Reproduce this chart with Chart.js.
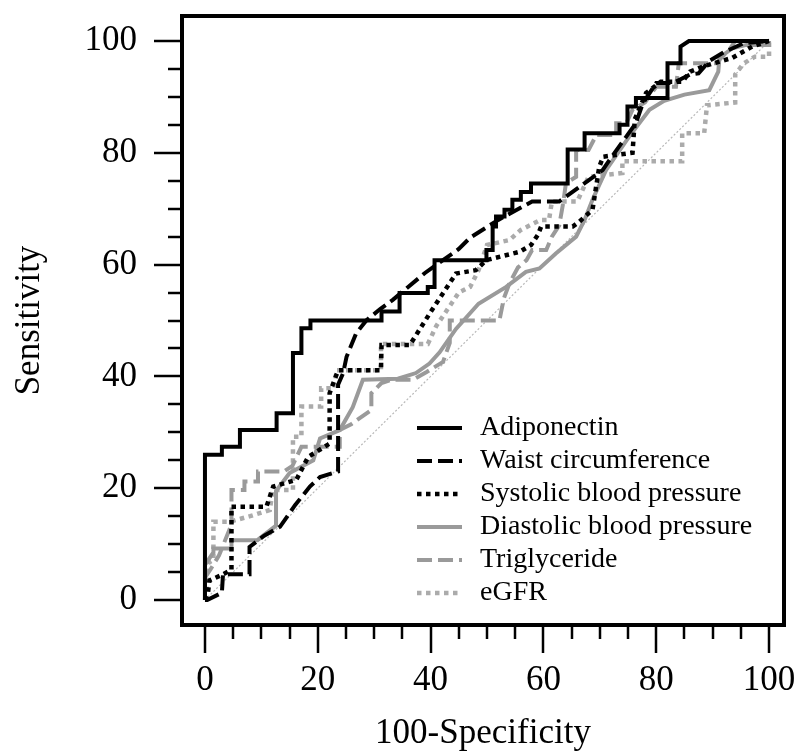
<!DOCTYPE html>
<html>
<head>
<meta charset="utf-8">
<script src="https://cdn.jsdelivr.net/npm/chart.js@4.4.1/dist/chart.umd.min.js"></script>
<style>
html,body{margin:0;padding:0;background:#fff;}
canvas{display:block;}
</style>
</head>
<body>
<canvas id="c" width="800" height="751"></canvas>
<script>
// ---- data (100-Specificity, Sensitivity) ----
const seriesNames = ["Adiponectin","Waist circumference","Systolic blood pressure","Diastolic blood pressure","Triglyceride","eGFR"];

const adipoX = [0,0,3,3,6.2,6.2,12.7,12.7,15.6,15.6,17.1,17.1,18.7,18.7,31.3,31.3,34.5,34.5,39.5,39.5,40.7,40.7,49.9,49.9,51,51,51.6,51.6,53.1,53.1,54.5,54.5,56,56,57.8,57.8,64.3,64.3,67.3,67.3,73.5,73.5,74.9,74.9,76.4,76.4,82,82,84.3,84.3,85.8,100];
const adipoY = [0,26,26,27.4,27.4,30.4,30.4,33.4,33.4,44.2,44.2,48.6,48.6,50,50,51.6,51.6,54.9,54.9,56,56,60.8,60.8,62.6,62.6,66.8,66.8,68.6,68.6,69.8,69.8,71.6,71.6,73,73,74.5,74.5,80.6,80.6,83.5,83.5,85,85,88.3,88.3,89.8,89.8,96,96,99,100,100];

const waistX = [0,0.4,3,3.2,7.9,7.9,10.5,13.3,16,18.6,20.4,23.6,23.6,24.5,25.1,26.8,28.6,31,33.3,39,45,47,52,58,62.8,66.5,70.5,71.7,76.4,77.6,80,83,86,87.5,89.5,92,95.5,100];
const waistY = [0,0,1.3,4.6,4.6,9.5,11.5,13.1,17,20.3,22,23,38.5,40.6,43.5,47.7,50,52,53.7,58.5,62.8,64.8,68,71.3,71.3,74,76.9,78.7,85.3,88.8,92.5,92.5,94,94.2,96.5,98,99.6,100];

const sbpX = [0,0.5,0.8,3,4.7,4.7,10.9,12.1,16.2,18.3,21.8,22.1,22.1,23.6,31.2,31.3,36.3,40,44.5,48,49.9,55.8,57.8,59,59.6,65.2,66.4,68.7,69.9,70.6,75.8,76.2,78.2,80.8,84.6,86,88.2,93.5,97,100];
const sbpY = [0,1,3.5,4.5,5.4,16.7,16.7,20.3,21.5,25.6,27.8,28,37,41.1,41.1,45.6,45.6,51.5,58.4,59,60.8,62.3,63.5,65.3,66.8,66.8,67.7,69.8,77.5,79.3,80,86,90.7,92.7,92.7,94.5,95.4,97,99,100];

const dbpX = [0,0,1.5,1.5,4.7,4.7,9.3,12.6,12.6,15,19.2,20.4,23.9,26.2,28,34.2,37.4,39.8,41.6,44.5,48.5,53.4,56.9,59.3,62.2,65.8,67.3,68.7,71.1,75.2,78.8,81.4,85,89.4,91,91.2,93.5,96,100,100];
const dbpY = [0,6.3,8.5,9.2,9.2,10.7,10.7,13.3,19.5,22.7,25,28.9,30.4,34.5,39.4,39.6,40.6,42.3,44.3,48.5,53,56,58.7,59.3,62,65,68,71.6,76.9,82.9,87.7,89.3,90.4,91.2,94.5,97,98.7,99.3,99.3,100];

const tgX = [0,0,1,2.5,4.7,4.7,7,7,9.4,9.4,14,15.5,17.1,23.9,23.9,26,29.5,29.5,31.3,33,36.9,39.3,42.2,43.4,43.4,52.2,53,54,55.5,57,58,60.5,61.5,62.8,63.5,64,65.8,65.8,68,69.4,72.9,72.9,74.7,75.8,78,80,83.5,84,90.6,93,94,100];
const tgY = [0,4,5.5,8,13.5,19.7,19.7,21.2,21.2,23,23,24,27.4,27.4,30.4,31.5,34,37,38.8,39.4,39.4,40.8,42.6,46,50,50,54,56.7,59.5,60.8,62.6,62.6,65,67,71,74.6,75.7,80.5,80.5,83.2,83.2,85.3,85.3,87.7,89,91.8,91.8,96,96,98.5,100,100];

const egfrX = [0,0.3,0.6,1.5,1.5,4.4,8,11.5,12,15.6,15.6,17.1,17.1,20.6,20.6,23,23.3,31.2,31.2,39.5,41,43,45,47,48.5,50,54,56,59.5,61,61.5,66,68,74,74,84.6,84.6,88.5,89,94,94,95.5,97.5,100,100];
const egfrY = [0,2,6.6,7.2,14,14,15,16.1,19.7,19.7,29.2,29.2,34.6,34.6,37.9,37.9,41.1,41.1,45.8,45.8,49,52,55,56,59,63.5,64.4,66.2,68,68,71.3,71.3,75.7,76.4,78.5,78.5,83.5,83.5,88.5,89,94,96,97.2,97.2,100];

const refX = [0,100];
const refY = [0,100];

const xTickValues = [0,20,40,60,80,100];
const yTickValues = [0,20,40,60,80,100];
const minorStep = 5;

// ---- build ----
const pts = (xs, ys) => xs.map((x, i) => ({x: x, y: ys[i]}));
const GRAY = '#9a9a9a';
const LGRAY = '#ababab';
const serif = "'Liberation Serif','Times New Roman',serif";

const styles = [
  {borderColor:'#000', borderWidth:4, borderDash:[]},
  {borderColor:'#000', borderWidth:4, borderDash:[15,6]},
  {borderColor:'#000', borderWidth:4.5, borderDash:[4.5,4.5]},
  {borderColor:GRAY, borderWidth:4, borderDash:[]},
  {borderColor:GRAY, borderWidth:4, borderDash:[15,6]},
  {borderColor:LGRAY, borderWidth:4.5, borderDash:[4.5,4.5]}
];
const seriesData = [pts(adipoX,adipoY), pts(waistX,waistY), pts(sbpX,sbpY), pts(dbpX,dbpY), pts(tgX,tgY), pts(egfrX,egfrY)];

const datasets = seriesNames.map((name, i) => Object.assign({
  label: name,
  data: seriesData[i],
  showLine: true,
  fill: false,
  pointRadius: 0,
  tension: 0,
  borderCapStyle: 'butt',
  borderJoinStyle: 'miter'
}, styles[i]));
datasets.push({
  label: '_ref',
  data: pts(refX, refY),
  showLine: true,
  pointRadius: 0,
  borderColor: '#b8b8b8',
  borderWidth: 1.2,
  borderDash: [2,2]
});

const framePlugin = {
  id: 'frameTicks',
  afterDraw(chart) {
    const {ctx, chartArea: a, scales} = chart;
    ctx.save();
    ctx.strokeStyle = '#000';
    ctx.lineWidth = 2.5;
    for (let v = 0; v <= 100; v += minorStep) {
      const major = v % 20 === 0;
      const len = major ? 28 : 14;
      const px = Math.round(scales.x.getPixelForValue(v));
      ctx.beginPath(); ctx.moveTo(px, a.bottom); ctx.lineTo(px, a.bottom + len); ctx.stroke();
      const py = Math.round(scales.y.getPixelForValue(v));
      ctx.beginPath(); ctx.moveTo(a.left, py); ctx.lineTo(a.left - len, py); ctx.stroke();
    }
    ctx.lineWidth = 4;
    ctx.strokeRect(a.left, a.top, a.right - a.left, a.bottom - a.top);
    ctx.restore();
  }
};

const legendPlugin = {
  id: 'innerLegend',
  afterDatasetsDraw(chart) {
    const {ctx} = chart;
    const x0 = 417, x1 = 462, tx = 480, y0 = 428, dy = 33;
    ctx.save();
    ctx.font = "28px " + serif;
    ctx.textBaseline = 'middle';
    ctx.textAlign = 'left';
    chart.data.datasets.forEach((ds, i) => {
      if (ds.label === '_ref') return;
      const y = y0 + i * dy;
      ctx.strokeStyle = ds.borderColor;
      ctx.lineWidth = ds.borderWidth;
      ctx.setLineDash(ds.borderDash || []);
      ctx.lineCap = 'butt';
      ctx.beginPath(); ctx.moveTo(x0, y); ctx.lineTo(x1, y); ctx.stroke();
      ctx.setLineDash([]);
      ctx.fillStyle = '#000';
      ctx.fillText(ds.label, tx, y);
    });
    ctx.restore();
  }
};

const zeroPad = s => { s.paddingTop = 0; s.paddingBottom = 0; s.paddingLeft = 0; s.paddingRight = 0; };

new Chart(document.getElementById('c'), {
  type: 'scatter',
  data: {datasets: datasets},
  options: {
    responsive: false,
    animation: false,
    devicePixelRatio: 1,
    layout: {padding: {left: 0, right: 16, top: 16, bottom: 0}},
    plugins: {legend: {display: false}, tooltip: {enabled: false}},
    scales: {
      x: {
        type: 'linear',
        min: -4.07, max: 102.65,
        grid: {display: false, drawTicks: false, tickLength: 0},
        border: {display: false},
        afterBuildTicks: s => { s.ticks = xTickValues.map(v => ({value: v})); },
        afterFit: s => { s.height = 126; zeroPad(s); },
        ticks: {color: '#000', font: {family: serif, size: 35}, padding: 35, maxRotation: 0, autoSkip: false},
        title: {display: true, text: '100-Specificity', color: '#000', font: {family: serif, size: 35, lineHeight: 1.0}, padding: {top: 0, bottom: 0}}
      },
      y: {
        type: 'linear',
        min: -4.47, max: 104.47,
        grid: {display: false, drawTicks: false, tickLength: 0},
        border: {display: false},
        afterBuildTicks: s => { s.ticks = yTickValues.map(v => ({value: v})); },
        afterFit: s => { s.width = 182; zeroPad(s); },
        ticks: {color: '#000', font: {family: serif, size: 35}, padding: 45, autoSkip: false},
        title: {display: true, text: 'Sensitivity', color: '#000', font: {family: serif, size: 35}, padding: {top: 9, bottom: 0}}
      }
    }
  },
  plugins: [framePlugin, legendPlugin]
});
</script>
</body>
</html>
